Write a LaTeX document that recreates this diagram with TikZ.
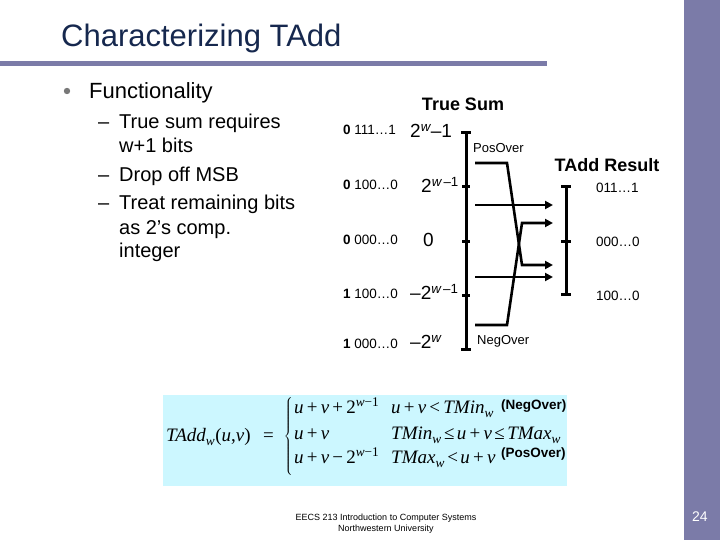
\documentclass[tikz,border=0pt]{standalone}
\usepackage{fontspec}
\setmainfont{Liberation Sans}
\newfontfamily\tms{Liberation Serif}
\usetikzlibrary{arrows.meta}
\definecolor{barcol}{RGB}{123,123,168}
\definecolor{titlecol}{RGB}{22,40,78}
\definecolor{boxcol}{RGB}{204,247,255}
\definecolor{bulcol}{RGB}{120,120,120}
\newcommand\sop[1]{\hspace{3.2pt}\textup{#1}\hspace{3.2pt}}
\newcommand\nop[1]{\hspace{2.4pt}\textup{#1}\hspace{2.4pt}}
\newcommand\vsub[1]{\textsubscript{\raisebox{-1.5pt}{#1}}}
\tikzset{
  fs/.style={font=\fontsize{#1}{#1}\selectfont},
  axis/.style={line width=3pt},
  flow/.style={line width=2.6pt,-{Triangle[length=8pt,width=8pt]}},
  bl/.style={anchor=base west,inner sep=0pt},
  ml/.style={anchor=mid west,inner sep=0pt,font=\fontsize{#1}{#1}\selectfont},
  fm/.style={anchor=base west,inner sep=0pt,font=\tms\itshape\fontsize{19}{19}\selectfont},
}
\begin{document}
\begin{tikzpicture}[x=1pt,y=-1pt]
\useasboundingbox (0,0) rectangle (720,540);
\fill[white] (0,0) rectangle (720,540);
% decoration bars
\fill[barcol] (684,0) rectangle (720,540);
\fill[barcol] (0,61) rectangle (547,66);
\node[bl,fs=31,text=titlecol] (title) at (61,47) {Characterizing TAdd};
\node[bl,fs=14,text=white] (pg) at (692,521) {24};
% bullets
\fill[bulcol] (67,91) circle (3.2);
\node[bl,fs=22] (f) at (89,99) {Functionality};
\node[bl,fs=20] (d1) at (98,129) {–};
\node[bl,fs=20] (t1) at (119,129) {True sum requires};
\node[bl,fs=20] (t2) at (119,153) {w+1 bits};
\node[bl,fs=20] (d3) at (98,182) {–};
\node[bl,fs=20] (t3) at (119,182) {Drop off MSB};
\node[bl,fs=20] (d4) at (98,210) {–};
\node[bl,fs=20] (t4) at (119,210) {Treat remaining bits};
\node[bl,fs=20] (t5) at (119,234) {as 2’s comp.};
\node[bl,fs=20] (t6) at (119,258) {integer};
% True sum axis
\node[font=\bfseries\fontsize{18}{18}\selectfont] (ts) at (463,104) {True Sum};
\coordinate (a0) at (466,133);
\coordinate (a1) at (466,187);
\coordinate (a2) at (466,241);
\coordinate (a3) at (466,295);
\coordinate (a4) at (466,349);
\draw[axis] (a0) -- (a4);
\draw[axis] ([xshift=-5]a0) -- ([xshift=5]a0);
\draw[axis] ([xshift=-5]a4) -- ([xshift=5]a4);
\foreach \c in {a1,a2,a3} \draw[axis] ([xshift=-4]\c) -- ([xshift=4]\c);
% left labels
\node[ml=13.5] (b0) at (343,132) {\textbf{0} 111…1};
\node[ml=13.5] (b1) at (343,187) {\textbf{0} 100…0};
\node[ml=13.5] (b2) at (343,242) {\textbf{0} 000…0};
\node[ml=13.5] (b3) at (343,296) {\textbf{1} 100…0};
\node[ml=13.5] (b4) at (343,346) {\textbf{1} 000…0};
\node[ml=19] (v0) at (410,135) {2\textsuperscript{\itshape w}–1};
\node[ml=19] (v1) at (421,190) {2\textsuperscript{\itshape w\upshape\,–1}};
\node[ml=19] (v2) at (423,244) {0};
\node[ml=19] (v3) at (410,297) {–2\textsuperscript{\itshape w\upshape\,–1}};
\node[ml=19] (v4) at (410,346) {–2\textsuperscript{\itshape w}};
\node[ml=13] (po) at (473,150) {PosOver};
\node[ml=13] (no) at (477,342) {NegOver};
% TAdd result axis
\node[font=\bfseries\fontsize{18}{18}\selectfont] (tr) at (607,165) {TAdd Result};
\coordinate (r0) at (566,187);
\coordinate (r1) at (566,241);
\coordinate (r2) at (566,294);
\draw[axis] (r0) -- (r2);
\foreach \c in {r0,r1,r2} \draw[axis] ([xshift=-5]\c) -- ([xshift=5]\c);
\node[ml=13.5] (c0) at (596,190) {011…1};
\node[ml=13.5] (c1) at (596,244) {000…0};
\node[ml=13.5] (c2) at (596,298) {100…0};
% flows
\coordinate (p0) at (475,163);
\coordinate (p1) at (507,163);
\coordinate (p2) at (522,265);
\coordinate (pe) at (553,265);
\coordinate (n0) at (475,325);
\coordinate (n1) at (507,325);
\coordinate (n2) at (522,223);
\coordinate (ne) at (553,223);
\draw[flow] (p0) -- (p1) -- (p2) -- (pe);
\draw[flow] (n0) -- (n1) -- (n2) -- (ne);
\coordinate (s0) at (475,205);
\coordinate (se0) at (553,205);
\coordinate (s1) at (475,277);
\coordinate (se1) at (553,277);
\draw[flow] (s0) -- (se0);
\draw[flow] (s1) -- (se1);
% formula box
\fill[boxcol] (163,395) rectangle (567,486);
\node[fm] (lhs) at (166,441) {TAdd\vsub{w}\textup{(}u\textup{,}v\textup{)}};
\node[fm] (eq) at (263,441) {\textup{=}};
\node[inner sep=0pt,anchor=east] (br) at (293,437) {$\left\{\vrule height 38pt depth 37pt width 0pt\right.\kern-\nulldelimiterspace$};
\node[fm] (e1) at (294,413) {u\sop{+}v\sop{+}\textup{2}\textsuperscript{w\textup{−1}}};
\node[fm] (e2) at (294,439) {u\sop{+}v};
\node[fm] (e3) at (294,463) {u\sop{+}v\sop{−}\textup{2}\textsuperscript{w\textup{−1}}};
\node[fm] (k1) at (391,413) {u\sop{+}v\sop{<}TMin\vsub{w}};
\node[fm] (k2) at (391,439) {TMin\vsub{w}\nop{≤}u\sop{+}v\nop{≤}TMax\vsub{w}};
\node[fm] (k3) at (391,463) {TMax\vsub{w}\nop{<}u\sop{+}v};
\node[anchor=mid west,inner sep=0pt,font=\bfseries\fontsize{13.5}{13.5}\selectfont] (l1) at (501,407) {(NegOver)};
\node[anchor=mid west,inner sep=0pt,font=\bfseries\fontsize{13.5}{13.5}\selectfont] (l2) at (501,455) {(PosOver)};
% footer
\node[fs=9,align=center,inner sep=0pt] (ft) at (386,524) {EECS 213 Introduction to Computer Systems\\[2pt]Northwestern University};
\end{tikzpicture}
\end{document}
